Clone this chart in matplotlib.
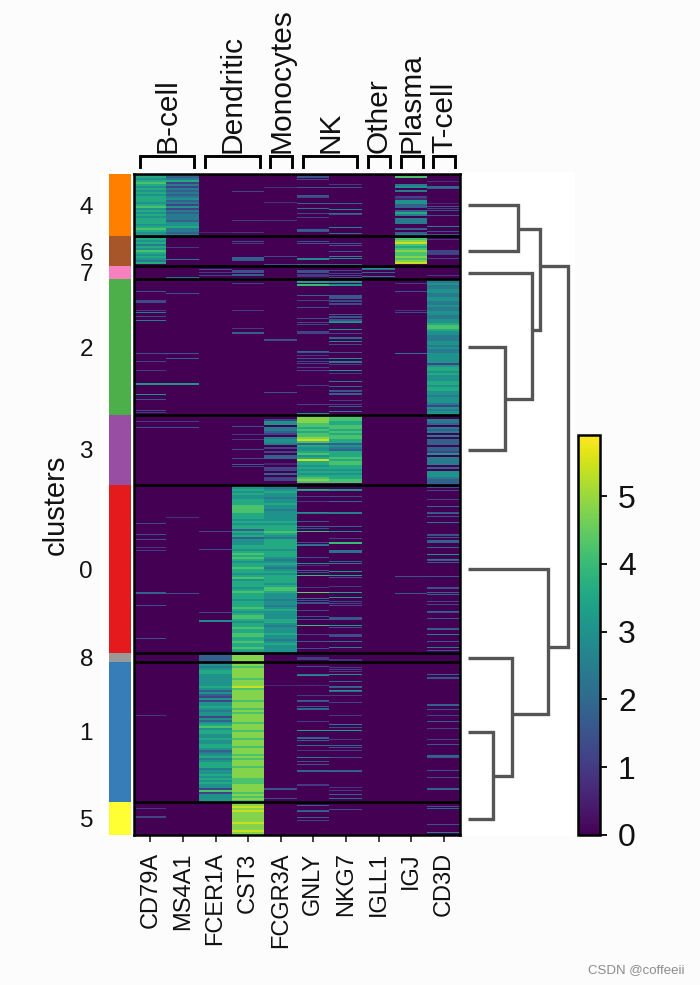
import numpy as np
import matplotlib
matplotlib.use("Agg")
import matplotlib.pyplot as plt
from matplotlib.patches import Rectangle

plt.rcParams["font.family"] = ["Liberation Sans", "DejaVu Sans"]

GENES = ["CD79A", "MS4A1", "FCER1A", "CST3", "FCGR3A", "GNLY", "NKG7", "IGLL1", "IGJ", "CD3D"]
GROUP_NAMES = ["B-cell", "Dendritic", "Monocytes", "NK", "Other", "Plasma", "T-cell"]
GROUP_FIRST = [0, 2, 4, 5, 7, 8, 9]
GROUP_LAST = [1, 3, 4, 6, 7, 8, 9]

CLUSTERS = ["4", "6", "7", "2", "3", "0", "8", "1", "5"]
CLUSTER_ROWS = [62, 30, 13, 136, 70, 168, 9, 140, 33]
CLUSTER_COLORS = ["#ff7f00", "#a65628", "#f781bf", "#4daf4a", "#984ea3", "#e41a1c", "#999999", "#377eb8", "#ffff33"]

# strings: one digit per two rows, digit*0.6 = expression. lists: (row, expression) stripes
C4 = {
    "CD79A": "5656765656566656756565666567655",
    "MS4A1": "4346242434345342524344435564434",
    "FCER1A": [(58, 0.6)],
    "CST3": [(17, 1.2), (46, 1.0), (58, 0.9)],
    "FCGR3A": [(13, 0.8), (28, 0.8), (46, 0.9)],
    "GNLY": [(2, 1.5), (3, 1.5), (5, 1.4), (13, 1.6), (21, 1.5), (22, 1.5), (23, 1.2), (29, 2.0), (34, 2.2), (39, 1.3), (43, 1.2), (55, 1.8), (56, 1.8), (57, 1.5)],
    "NKG7": [(10, 1.0), (13, 1.6), (29, 2.0), (35, 2.6), (39, 2.2), (40, 1.3), (53, 2.6), (59, 2.0)],
    "IGJ": "0700045040021553303640444003034443",
    "CD3D": [(7, 0.8), (12, 2.0), (13, 2.0), (14, 1.6), (29, 0.6), (32, 1.5), (34, 1.2), (36, 1.5), (41, 1.5), (52, 2.4), (57, 1.5), (60, 1.5)],
}
C6 = {
    "CD79A": "065646576565460",
    "MS4A1": [(11, 1.0), (23, 2.2)],
    "CST3": [(5, 1.4), (7, 1.0), (21, 1.8), (22, 1.8), (23, 1.8), (24, 1.6)],
    "FCGR3A": [(20, 1.3), (28, 1.5)],
    "GNLY": [(5, 1.5), (7, 1.5), (22, 2.8), (23, 2.8), (28, 2.0)],
    "NKG7": [(7, 1.5), (9, 1.5), (15, 1.6), (20, 2.6), (22, 2.6), (28, 2.0)],
    "IGJ": "078976787787890",
    "CD3D": [(3, 1.0), (14, 1.2), (15, 1.2), (16, 1.2), (17, 1.2), (18, 1.0), (22, 1.2)],
}
C7 = {
    "MS4A1": [(11, 2.0), (12, 2.0)],
    "FCER1A": [(3, 1.5), (6, 1.0), (9, 1.3)],
    "CST3": [(4, 1.5), (5, 1.5), (6, 1.5), (8, 1.8), (9, 1.8), (12, 2.2)],
    "GNLY": [(4, 1.5), (5, 1.5), (6, 1.5), (8, 1.0), (9, 1.0), (10, 1.0), (12, 1.8)],
    "NKG7": [(4, 1.3), (7, 1.2), (9, 1.3), (11, 1.5)],
    "IGLL1": [(2, 2.8), (3, 2.2), (6, 2.0), (10, 2.6)],
    "CD3D": [(9, 1.0)],
}
C2 = {
    "CD79A": [(12, 1.5), (21, 1.3), (22, 1.3), (23, 1.3), (31, 1.0), (33, 2.5), (37, 1.2), (41, 2.5), (74, 1.5), (82, 1.2), (91, 1.0), (104, 3.0), (105, 3.0), (115, 3.0), (120, 1.5), (131, 1.3), (133, 1.0)],
    "MS4A1": [(14, 1.5), (74, 1.5), (79, 1.8), (104, 3.0), (105, 3.0)],
    "CST3": [(4, 1.2), (31, 1.0), (49, 1.0), (53, 1.8), (54, 1.8)],
    "FCGR3A": [(60, 1.6), (61, 1.2), (113, 1.5)],
    "GNLY": [(2, 3.4), (3, 3.4), (5, 4.0), (6, 4.0), (16, 1.8), (21, 1.2), (28, 1.5), (39, 1.3), (43, 1.3), (45, 1.2), (52, 1.2), (53, 1.2), (54, 1.2), (72, 2.0), (73, 1.5), (76, 1.0), (79, 1.6), (82, 1.3), (84, 1.3), (88, 1.2), (91, 1.2), (106, 1.0), (125, 1.2), (134, 3.0), (135, 3.0)],
    "NKG7": [(2, 3.0), (3, 3.0), (5, 3.0), (6, 3.0), (16, 1.6), (17, 1.6), (18, 1.6), (19, 1.6), (21, 1.3), (22, 1.3), (24, 1.3), (25, 1.3), (35, 1.5), (37, 1.5), (38, 1.5), (40, 1.5), (41, 1.5), (42, 2.8), (43, 3.2), (50, 3.0), (54, 1.2), (58, 1.8), (59, 2.0), (62, 2.8), (65, 1.3), (73, 1.5), (79, 3.0), (82, 2.6), (83, 2.2), (85, 1.0), (91, 3.0), (94, 1.0), (102, 2.4), (107, 2.0), (111, 1.5), (112, 1.5), (114, 1.8), (115, 1.8), (121, 1.2), (125, 1.2), (127, 1.8), (132, 2.5), (135, 1.5)],
    "IGJ": [(4, 1.1), (12, 1.5), (31, 0.9), (33, 1.3), (74, 2.2)],
    "CD3D": "54544554455445445544556776554445545445555525665655566566554555425455",
}
C3 = {
    "CD79A": [(6, 1.0), (12, 1.5)],
    "MS4A1": [(6, 1.0), (12, 1.5)],
    "CST3": [(11, 1.5), (19, 1.0), (24, 1.0), (34, 1.5), (43, 1.5), (49, 1.8), (51, 1.0)],
    "FCGR3A": "00255044320455402020330010220302200",
    "GNLY": "78887767677897365567569665656567870",
    "NKG7": "67766776767766354366676776656566770",
    "CD3D": "00443043404033303325044440305554333",
}
C0 = {
    "CD79A": [(38, 1.3), (49, 1.5), (54, 1.5), (62, 1.0), (65, 1.0), (107, 1.8), (108, 1.8), (120, 1.5), (153, 1.5)],
    "MS4A1": [(32, 0.9), (108, 1.3)],
    "FCER1A": [(46, 1.3), (64, 1.3), (127, 1.3), (135, 2.8), (136, 2.8)],
    "CST3": "5565655666777766656566365635" + "55665676765667665675666567666566676567765667667766766765",
    "FCGR3A": "4456554556554555556566676546" + "66665666545654565666656776555455456555566545556554565555",
    "GNLY": [(4, 3.8), (5, 3.2), (11, 1.2), (16, 1.0), (27, 3.0), (28, 2.0), (36, 1.5), (41, 2.0), (43, 1.5), (46, 4.0), (57, 1.5), (59, 2.0), (60, 2.4), (72, 1.5), (78, 3.0), (80, 1.0), (85, 1.8), (87, 1.5), (90, 4.0), (102, 1.0), (107, 4.5), (113, 2.2), (115, 1.5), (117, 1.5), (118, 1.5), (125, 1.3), (131, 1.5), (134, 1.5), (140, 4.0), (149, 1.2), (156, 1.6), (163, 1.5)],
    "NKG7": [(4, 3.0), (5, 3.0), (11, 1.3), (16, 2.0), (27, 2.5), (28, 2.5), (41, 1.8), (46, 2.8), (53, 1.2), (57, 4.0), (58, 4.0), (65, 2.2), (66, 2.2), (67, 2.2), (76, 1.8), (78, 2.5), (86, 3.0), (90, 3.4), (92, 1.5), (101, 1.0), (107, 3.4), (112, 3.2), (116, 1.3), (118, 1.3), (120, 1.3), (132, 1.6), (133, 1.6), (134, 1.6), (140, 3.2), (142, 1.5), (149, 1.3), (150, 1.5), (151, 1.3), (156, 2.2), (162, 2.4)],
    "IGJ": [(91, 1.5), (108, 1.6)],
    "CD3D": [(2, 1.5), (5, 1.3), (14, 1.2), (21, 2.0), (27, 1.5), (28, 1.8), (31, 1.5), (37, 2.2), (49, 1.6), (50, 1.3), (52, 1.6), (55, 2.0), (56, 1.8), (57, 1.8), (62, 1.8), (69, 3.0), (74, 2.2), (75, 1.6), (77, 1.5), (91, 1.6), (102, 1.4), (103, 1.5), (107, 2.0), (109, 1.8), (116, 1.3), (119, 1.3), (126, 2.0), (127, 1.3), (133, 1.6), (143, 1.7), (144, 1.7), (149, 2.4), (156, 1.7), (162, 2.4), (165, 1.5), (167, 1.2)],
}
C8 = {
    "FCER1A": "03333",
    "CST3": "08888",
    "GNLY": [(4, 1.0), (5, 1.0), (6, 1.0)],
    "NKG7": [(6, 0.8), (7, 0.8)],
}
C1 = {
    "CD79A": [(53, 1.0)],
    "FCER1A": "5545665555556535325255654552535675665565566534564566645565656552725555",
    "CST3": "8878888878889788888788878788887888788878887888787888788888777888878787",
    "FCGR3A": [(23, 0.6), (126, 1.5), (127, 1.5), (136, 1.5)],
    "GNLY": [(4, 1.5), (12, 2.0), (13, 3.0), (23, 0.8), (33, 1.0), (38, 1.8), (39, 1.5), (44, 1.5), (46, 2.0), (47, 2.0), (59, 1.0), (68, 3.3), (75, 1.8), (76, 2.0), (78, 1.8), (83, 2.0), (88, 1.0), (95, 2.5), (99, 1.5), (102, 1.5), (108, 1.8), (109, 2.0), (122, 1.0), (123, 1.0)],
    "NKG7": [(0, 1.0), (5, 1.0), (7, 1.2), (9, 1.0), (12, 3.0), (19, 2.0), (24, 2.0), (25, 1.6), (28, 3.2), (29, 2.0), (33, 1.0), (40, 1.2), (53, 1.0), (62, 2.4), (65, 1.4), (68, 3.3), (77, 1.0), (83, 2.0), (85, 1.5), (88, 1.2), (95, 1.5), (108, 1.6), (109, 2.0), (125, 1.0), (128, 1.0), (132, 1.8), (136, 2.0)],
    "CD3D": [(12, 1.8), (15, 1.5), (16, 1.5), (42, 1.8), (43, 1.8), (47, 1.5), (53, 1.2), (59, 1.8), (66, 1.2), (77, 1.2), (82, 1.6), (93, 2.0), (94, 1.8), (95, 1.6), (108, 1.5), (115, 1.3), (126, 1.8), (127, 1.8)],
}
C5 = {
    "CD79A": [(6, 1.0), (14, 1.3), (15, 1.2)],
    "CST3": "88989888889888988",
    "GNLY": [(3, 1.8), (8, 1.6), (9, 2.0), (15, 1.8), (18, 1.2)],
    "NKG7": [(7, 1.3)],
    "CD3D": [(4, 1.5), (6, 1.8), (22, 1.5), (30, 2.5)],
}
CLUSTER_DATA = [C4, C6, C7, C2, C3, C0, C8, C1, C5]

# merges: child a, child b, distance, row where the parent attaches
MERGES = [
    ("4", "6", 1.0, 55, "a"),
    ("2", "3", 0.74, 225, "b"),
    ("7", "b", 1.28, 156, "c"),
    ("a", "c", 1.44, 92, "d"),
    ("1", "5", 0.5, 602, "e"),
    ("8", "e", 0.88, 540, "f"),
    ("0", "f", 1.6, 473, "g"),
    ("d", "g", 2.0, 0, "root"),
]

W, H = 700, 985
VMAX = 5.9


def add_ax(fig, left, top, right, bottom):
    return fig.add_axes([left / W, 1 - bottom / H, (right - left) / W, (bottom - top) / H])


def cluster_matrix(data, nrows):
    m = np.zeros((nrows, len(GENES)))
    for gene, vals in data.items():
        j = GENES.index(gene)
        if isinstance(vals, str):
            for i, c in enumerate(vals):
                m[i * 2:i * 2 + 2, j] = int(c) * 0.6
        else:
            for row, v in vals:
                m[row, j] = v
    return m


matrix = np.vstack([cluster_matrix(d, n) for d, n in zip(CLUSTER_DATA, CLUSTER_ROWS)])
edges = np.cumsum(CLUSTER_ROWS)
total = edges[-1]
centers = edges - np.array(CLUSTER_ROWS) / 2

fig = plt.figure(figsize=(W / 100, H / 100), dpi=100, facecolor="#fcfcfc")
fig.add_artist(Rectangle((100 / W, 1 - 835 / H), 474 / W, 663 / H, transform=fig.transFigure, color="white", zorder=-5))

# heatmap
ax = add_ax(fig, 134, 174, 460, 835)
im = ax.imshow(matrix, cmap="viridis", vmin=0, vmax=VMAX, aspect="auto", interpolation="nearest", extent=(-0.5, 9.5, total, 0))
for e in edges[:-1]:
    ax.axhline(e, color="black", lw=1.9)
ax.set_xticks(range(len(GENES)), GENES, rotation=90, fontsize=17, color="#111111")
ax.tick_params(axis="x", length=5, width=1.3, pad=7.5, color="#333333")
ax.set_yticks([])
for s in ax.spines.values():
    s.set_linewidth(1.8)

# cluster colour strip
ax_bar = add_ax(fig, 109, 174, 131, 835)
ax_bar.barh(centers, 1, height=CLUSTER_ROWS, color=CLUSTER_COLORS)
ax_bar.set_ylim(total, 0)
ax_bar.set_xlim(0, 1)
ax_bar.set_xticks([])
ax_bar.set_yticks(centers, CLUSTERS, fontsize=17.5, color="#111111")
ax_bar.tick_params(axis="y", length=0, pad=11.5)
ax_bar.set_ylabel("clusters", fontsize=21, labelpad=7, color="#111111")
for s in ax_bar.spines.values():
    s.set_visible(False)

# gene group brackets
ax_top = add_ax(fig, 134, 156, 460, 167)
ax_top.set_xlim(-0.5, 9.5)
ax_top.set_ylim(0, 1)
ax_top.axis("off")
for name, first, last in zip(GROUP_NAMES, GROUP_FIRST, GROUP_LAST):
    x0, x1 = first - 0.32, last + 0.35
    ax_top.plot([x0, x0, x1, x1], [0, 1, 1, 0], color="black", lw=2.1, clip_on=False, solid_joinstyle="miter")
    ax_top.annotate(name, ((x0 + x1) / 2, 1), xytext=(0, 2.5), textcoords="offset points", rotation=90,
                    ha="center", va="bottom", fontsize=21.5, color="#111111")

# dendrogram
ax_den = add_ax(fig, 468, 174, 574, 835)
ax_den.set_ylim(total, 0)
ax_den.set_xlim(0, 2.12)
ax_den.axis("off")
nodes = {c: (0.0, y) for c, y in zip(CLUSTERS, centers)}
for a, b, dist, row, name in MERGES:
    d0, y0 = nodes[a]
    d1, y1 = nodes[b]
    ax_den.plot([d0, dist, dist, d1], [y0, y0, y1, y1], color="#555555", lw=2.4, solid_joinstyle="miter", solid_capstyle="butt")
    nodes[name] = (dist, row)

# colorbar
cax = add_ax(fig, 578, 435, 600, 835)
cb = fig.colorbar(im, cax=cax, ticks=[0, 1, 2, 3, 4, 5])
cb.ax.tick_params(labelsize=23, length=5, width=1.3, pad=8, labelcolor="#111111")
cb.outline.set_linewidth(1.8)

fig.text(685 / W, 1 - 970 / H, "CSDN @coffeeii", ha="right", va="center", fontsize=9.5, color="#8c8c8c")

fig.savefig("out.png", dpi=100, facecolor=fig.get_facecolor())
